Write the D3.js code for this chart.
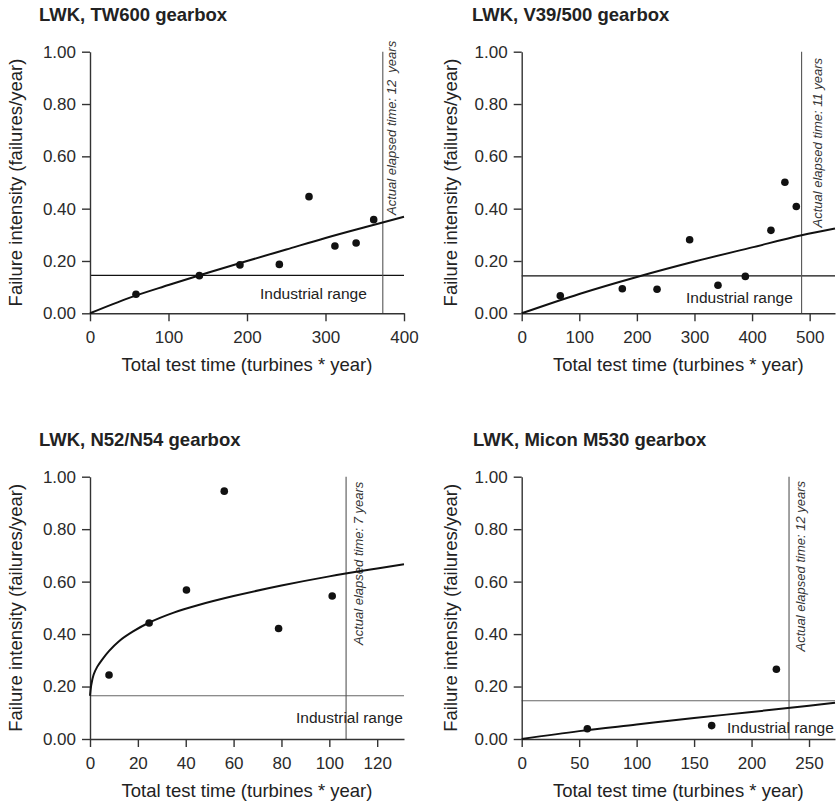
<!DOCTYPE html>
<html>
<head>
<meta charset="utf-8">
<script src="https://cdn.jsdelivr.net/npm/d3@7"></script>
<style>
  html, body { margin: 0; padding: 0; background: #fff; }
  svg { display: block; font-family: "Liberation Sans", Arial, Helvetica, sans-serif; }
</style>
</head>
<body>
<svg id="chart" width="838" height="802"></svg>
<script>
// ---------- DATA ----------
const titles = ["LWK, TW600 gearbox", "LWK, V39/500 gearbox", "LWK, N52/N54 gearbox", "LWK, Micon M530 gearbox"];
const elapsedLabels = ["Actual elapsed time: 12  years", "Actual elapsed time: 11 years", "Actual elapsed time: 7 years", "Actual elapsed time: 12 years"];
const xAxisTitle = "Total test time (turbines * year)";
const yAxisTitle = "Failure intensity (failures/year)";
const industrialLabel = "Industrial range";

const xMax = [400, 544, 131.2, 272.6];
const xTicksTW600 = [0, 100, 200, 300, 400];
const xTicksV39 = [0, 100, 200, 300, 400, 500];
const xTicksN52 = [0, 20, 40, 60, 80, 100, 120];
const xTicksM530 = [0, 50, 100, 150, 200, 250];
const yTicks = [0, 0.2, 0.4, 0.6, 0.8, 1.0];

const industrialRange = [0.145, 0.143, 0.165, 0.146];
const elapsedTime = [373, 486, 107, 232.6];

// observed points
const tw600X = [58.6, 139.3, 191, 241.2, 279, 312, 339, 361.4];
const tw600Y = [0.073, 0.144, 0.185, 0.187, 0.446, 0.257, 0.269, 0.358];
const v39X = [67, 174.7, 235, 291.6, 340.8, 388.3, 432.8, 457, 476.8];
const v39Y = [0.067, 0.094, 0.092, 0.281, 0.107, 0.141, 0.317, 0.501, 0.408];
const n52X = [7.95, 24.7, 40.3, 56.1, 78.8, 101.2];
const n52Y = [0.244, 0.442, 0.568, 0.945, 0.421, 0.545];
const m530X = [57.1, 165.3, 221.6];
const m530Y = [0.039, 0.051, 0.266];

// fitted curves
const tw600CurveX = [0, 50, 100, 150, 200, 250, 300, 350, 400];
const tw600CurveY = [0, 0.059, 0.108, 0.155, 0.200, 0.244, 0.288, 0.329, 0.369];
const v39CurveX = [0, 100, 200, 300, 400, 486, 544];
const v39CurveY = [0, 0.074, 0.139, 0.198, 0.252, 0.298, 0.324];
const n52CurveX = [0, 0.5, 1.5, 3, 5, 8, 12, 18, 25, 35, 45, 60, 80, 100, 120, 131.2];
const n52CurveY = [0.165, 0.205, 0.245, 0.275, 0.302, 0.336, 0.372, 0.41, 0.445, 0.482, 0.51, 0.545, 0.585, 0.62, 0.65, 0.666];
const m530CurveX = [0, 50, 100, 150, 200, 250, 272.6];
const m530CurveY = [0, 0.030, 0.055, 0.080, 0.103, 0.127, 0.138];

// ---------- LAYOUT ----------
const panels = [
  { title: titles[0], xMax: xMax[0], xTicks: xTicksTW600, px: tw600X, py: tw600Y, cx: tw600CurveX, cy: tw600CurveY,
    ind: industrialRange[0], elapsed: elapsedTime[0], elabel: elapsedLabels[0],
    left: 90, right: 404, top: 51.7, bottom: 313.3, titleX: 39, ylabX: 22,
    indColor: "#111", indStart: 260, indBase: 298.5, eDx: 13, eY: 215 },
  { title: titles[1], xMax: xMax[1], xTicks: xTicksV39, px: v39X, py: v39Y, cx: v39CurveX, cy: v39CurveY,
    ind: industrialRange[1], elapsed: elapsedTime[1], elabel: elapsedLabels[1],
    left: 521.7, right: 835, top: 51.7, bottom: 313.3, titleX: 472, ylabX: 457,
    indColor: "#111", indStart: 686, indBase: 302.5, eDx: 20, eY: 227.5 },
  { title: titles[2], xMax: xMax[2], xTicks: xTicksN52, px: n52X, py: n52Y, cx: n52CurveX, cy: n52CurveY,
    ind: industrialRange[2], elapsed: elapsedTime[2], elabel: elapsedLabels[2],
    left: 90, right: 404, top: 476.7, bottom: 739, titleX: 39, ylabX: 22,
    indColor: "#666", indStart: 296, indBase: 722.5, eDx: 17, eY: 645 },
  { title: titles[3], xMax: xMax[3], xTicks: xTicksM530, px: m530X, py: m530Y, cx: m530CurveX, cy: m530CurveY,
    ind: industrialRange[3], elapsed: elapsedTime[3], elabel: elapsedLabels[3],
    left: 521.7, right: 835, top: 476.7, bottom: 739, titleX: 473, ylabX: 457,
    indColor: "#666", indStart: 727, indBase: 732.5, eDx: 16, eY: 651.5 }
];

const svg = d3.select("#chart");
const textColor = "#222";

panels.forEach(p => {
  const g = svg.append("g");
  const x = d3.scaleLinear().domain([0, p.xMax]).range([p.left, p.right]);
  const y = d3.scaleLinear().domain([0, 1]).range([p.bottom, p.top]);

  // title
  g.append("text").attr("x", p.titleX).attr("y", p.top - 31)
    .attr("font-size", 18.5).attr("font-weight", "bold").attr("fill", textColor)
    .text(p.title);

  // industrial range line
  g.append("line").attr("x1", x(0)).attr("x2", x(p.xMax))
    .attr("y1", y(p.ind)).attr("y2", y(p.ind))
    .attr("stroke", p.indColor).attr("stroke-width", 1.1);

  // elapsed time vertical line
  g.append("line").attr("x1", x(p.elapsed)).attr("x2", x(p.elapsed))
    .attr("y1", y(1)).attr("y2", y(0))
    .attr("stroke", "#555").attr("stroke-width", 1.1);

  // industrial label
  g.append("text").attr("x", p.indStart).attr("y", p.indBase)
    .attr("font-size", 15.5).attr("fill", textColor).text(industrialLabel);

  // elapsed label
  g.append("text")
    .attr("transform", `translate(${x(p.elapsed) + p.eDx},${p.eY}) rotate(-90)`)
    .attr("font-size", 13).attr("font-style", "italic").attr("fill", "#333")
    .style("white-space", "pre")
    .text(p.elabel);

  // axes
  const xAxis = d3.axisBottom(x).tickValues(p.xTicks).tickFormat(d3.format("d"))
    .tickSize(8).tickSizeOuter(0).tickPadding(10);
  const yAxis = d3.axisLeft(y).tickValues(yTicks).tickFormat(d3.format(".2f"))
    .tickSize(8).tickSizeOuter(0).tickPadding(6);

  const gx = g.append("g").attr("transform", `translate(0,${p.bottom})`).call(xAxis);
  const gy = g.append("g").attr("transform", `translate(${p.left},0)`).call(yAxis);
  [gx, gy].forEach(a => {
    a.select(".domain").attr("stroke", "#333").attr("stroke-width", 1.4);
    a.selectAll(".tick line").attr("stroke", "#333").attr("stroke-width", 1.4);
    a.selectAll(".tick text").attr("font-size", 17).attr("fill", "#2a2a2a")
      .attr("font-family", "Liberation Sans, Arial, sans-serif");
  });

  // curve
  const line = d3.line().x(d => x(d[0])).y(d => y(d[1])).curve(d3.curveCatmullRom.alpha(0.5));
  g.append("path").datum(d3.zip(p.cx, p.cy))
    .attr("d", line).attr("fill", "none").attr("stroke", "#111").attr("stroke-width", 2);

  // points
  g.selectAll("circle.pt").data(d3.zip(p.px, p.py)).enter().append("circle")
    .attr("class", "pt").attr("cx", d => x(d[0])).attr("cy", d => y(d[1]))
    .attr("r", 3.8).attr("fill", "#111");

  // axis titles
  g.append("text").attr("x", (p.left + p.right) / 2).attr("y", p.bottom + 58)
    .attr("text-anchor", "middle").attr("font-size", 18.5).attr("fill", textColor)
    .text(xAxisTitle);
  g.append("text")
    .attr("transform", `translate(${p.ylabX},${(p.top + p.bottom) / 2}) rotate(-90)`)
    .attr("text-anchor", "middle").attr("font-size", 18.5).attr("fill", textColor)
    .text(yAxisTitle);
});
</script>
</body>
</html>
